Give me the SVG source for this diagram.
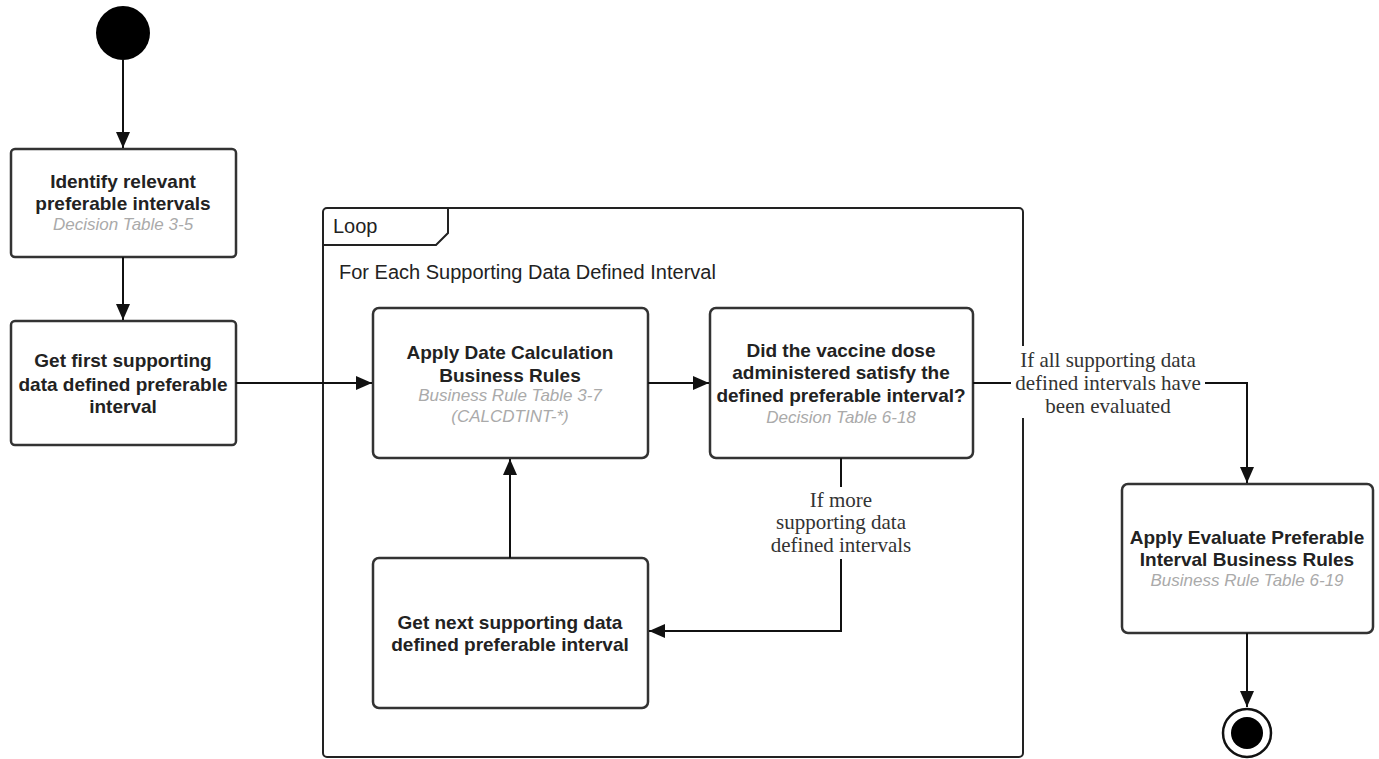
<svg xmlns="http://www.w3.org/2000/svg" width="1379" height="759" viewBox="0 0 1379 759">
<style>
.box{fill:#fff;stroke:#333;stroke-width:2.5}
.t{font-family:"Liberation Sans",Arial,sans-serif;font-weight:bold;font-size:19px;fill:#222;text-anchor:middle}
.s{font-family:"Liberation Sans",Arial,sans-serif;font-style:italic;font-size:17px;fill:#aaa;text-anchor:middle}
.e{font-family:"Liberation Serif","Times New Roman",serif;font-size:21px;fill:#333;text-anchor:middle}
.f{font-family:"Liberation Sans",Arial,sans-serif;font-size:20px;fill:#222}
.c{fill:none;stroke:#111;stroke-width:2}
</style>
<defs>
<marker id="a" markerWidth="16" markerHeight="14" refX="16" refY="7" orient="auto" markerUnits="userSpaceOnUse">
<path d="M0,0 L16,7 L0,14 Z" fill="#111"/>
</marker>
</defs>
<g id="loop">
<rect x="323" y="208" width="700" height="549" rx="4" fill="#fff" stroke="#222" stroke-width="2"/>
<path d="M323,245 L436,245 L448,233 L448,208" fill="none" stroke="#222" stroke-width="2"/>
<text class="f" x="333" y="233">Loop</text>
<text class="f" x="339" y="279">For Each Supporting Data Defined Interval</text>
</g>
<g id="start"><circle cx="123" cy="33" r="27" fill="#000"/></g>
<g id="n1">
<rect class="box" x="11" y="149" width="225" height="108" rx="4"/>
<text class="t" x="123" y="188">Identify relevant</text>
<text class="t" x="123" y="210">preferable intervals</text>
<text class="s" x="123" y="230">Decision Table 3-5</text>
</g>
<g id="n2">
<rect class="box" x="11" y="321" width="225" height="124" rx="4"/>
<text class="t" x="123" y="367">Get first supporting</text>
<text class="t" x="123" y="391">data defined preferable</text>
<text class="t" x="123" y="413">interval</text>
</g>
<g id="nA">
<rect class="box" x="373" y="308" width="275" height="150" rx="6"/>
<text class="t" x="510" y="359">Apply Date Calculation</text>
<text class="t" x="510" y="382">Business Rules</text>
<text class="s" x="510" y="401">Business Rule Table 3-7</text>
<text class="s" x="510" y="422">(CALCDTINT-*)</text>
</g>
<g id="nB">
<rect class="box" x="710" y="308" width="263" height="150" rx="6"/>
<text class="t" x="841" y="357">Did the vaccine dose</text>
<text class="t" x="841" y="379">administered satisfy the</text>
<text class="t" x="841" y="402">defined preferable interval?</text>
<text class="s" x="841" y="423">Decision Table 6-18</text>
</g>
<g id="nC">
<rect class="box" x="373" y="558" width="275" height="150" rx="6"/>
<text class="t" x="510" y="629">Get next supporting data</text>
<text class="t" x="510" y="651">defined preferable interval</text>
</g>
<g id="nD">
<rect class="box" x="1122" y="484" width="251" height="149" rx="6"/>
<text class="t" x="1247" y="544">Apply Evaluate Preferable</text>
<text class="t" x="1247" y="566">Interval Business Rules</text>
<text class="s" x="1247" y="586">Business Rule Table 6-19</text>
</g>
<g id="end">
<circle cx="1247" cy="733" r="24" fill="#fff" stroke="#111" stroke-width="2.5"/>
<circle cx="1247" cy="733" r="16" fill="#000"/>
</g>
<g id="connectors">
<path class="c" d="M123,60 L123,148" marker-end="url(#a)"/>
<path class="c" d="M123,257 L123,320" marker-end="url(#a)"/>
<path class="c" d="M236,383 L372,383" marker-end="url(#a)"/>
<path class="c" d="M648,383 L709,383" marker-end="url(#a)"/>
<path class="c" d="M510,558 L510,459" marker-end="url(#a)"/>
<path class="c" d="M841,458 L841,631 L649,631" marker-end="url(#a)"/>
<path class="c" d="M973,383 L1247,383 L1247,483" marker-end="url(#a)"/>
<path class="c" d="M1247,633 L1247,707" marker-end="url(#a)"/>
<rect x="772" y="487" width="138" height="72" fill="#fff"/>
<text class="e" x="841" y="507">If more</text>
<text class="e" x="841" y="529">supporting data</text>
<text class="e" x="841" y="552">defined intervals</text>
<rect x="1011" y="346" width="194" height="72" fill="#fff"/>
<text class="e" x="1108" y="367">If all supporting data</text>
<text class="e" x="1108" y="390">defined intervals have</text>
<text class="e" x="1108" y="413">been evaluated</text>
</g>
</svg>
